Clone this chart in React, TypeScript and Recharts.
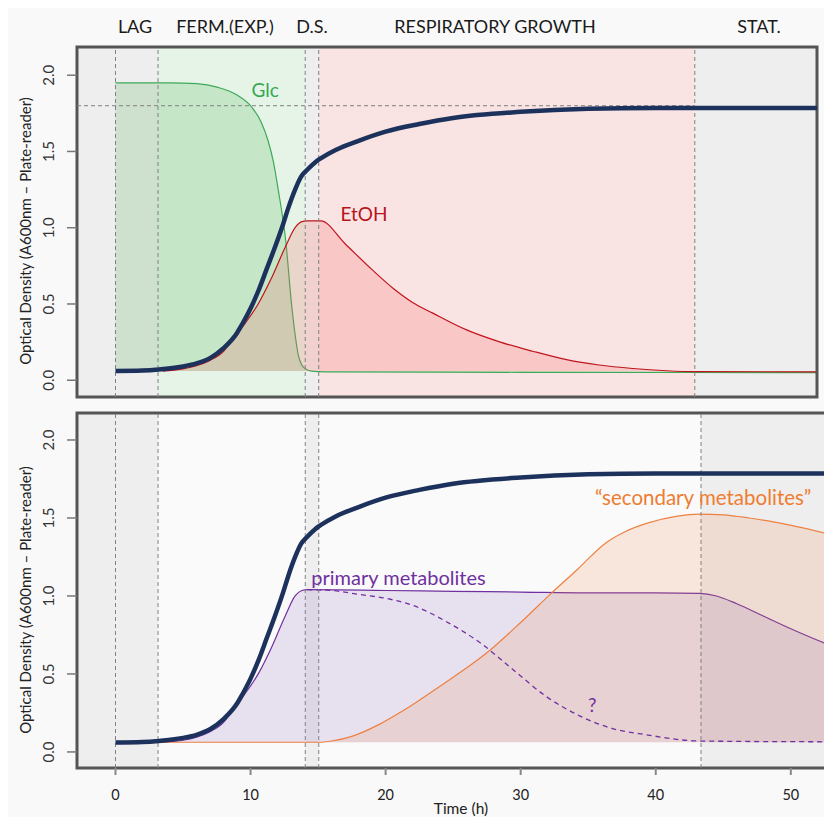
import { ComposedChart, Area, Line, XAxis, YAxis, ReferenceArea, ReferenceLine, ReferenceDot } from 'recharts'

// optical density (h, A600)
const odTime = [0, 2, 3.2, 5, 6, 7, 8, 9, 9.4, 10, 10.6, 11.2, 11.8, 12.4, 12.8, 13.3, 13.75, 14.2, 14.8, 15.2, 16.3, 18, 20, 22.5, 25, 30, 35, 40, 45, 52.7]
const odValue = [0.06, 0.063, 0.07, 0.09, 0.11, 0.145, 0.21, 0.31, 0.37, 0.47, 0.59, 0.73, 0.87, 1.02, 1.13, 1.25, 1.335, 1.38, 1.43, 1.455, 1.51, 1.57, 1.63, 1.68, 1.72, 1.76, 1.78, 1.785, 1.785, 1.785]

// glucose
const glcTime = [0, 4, 6, 7.6, 9, 10.1, 10.8, 11.3, 11.7, 12.05, 12.6, 13.06, 13.3, 13.55, 13.8, 14.05, 14.5, 15.5, 30, 52.7]
const glcValue = [1.95, 1.95, 1.945, 1.92, 1.87, 1.79, 1.69, 1.57, 1.43, 1.25, 0.92, 0.48, 0.3, 0.16, 0.1, 0.075, 0.06, 0.055, 0.052, 0.05]

// ethanol
const etohTime = [3.5, 5, 6, 7, 8, 8.6, 9.4, 10.6, 11.5, 12.56, 13.3, 13.8, 14.2, 15.2, 17, 19, 20.6, 22, 23.5, 26, 28.5, 30.9, 33.4, 35.8, 38.3, 40.8, 43, 52.7]
const etohValue = [0.06, 0.075, 0.095, 0.13, 0.19, 0.26, 0.35, 0.505, 0.66, 0.87, 1.0, 1.04, 1.045, 1.045, 0.895, 0.725, 0.6, 0.51, 0.44, 0.33, 0.25, 0.19, 0.135, 0.1, 0.077, 0.062, 0.056, 0.055]

// primary metabolites (solid) and the "?" branch (dashed)
const primTime = [3.15, 5, 6, 7, 8, 8.6, 9.4, 10.6, 11.5, 12.56, 13.3, 13.8, 14.2, 20, 25, 30, 35, 40, 43.2, 44.5, 46, 48, 50, 52.7]
const primValue = [0.062, 0.075, 0.095, 0.13, 0.19, 0.26, 0.35, 0.505, 0.66, 0.87, 1.0, 1.035, 1.04, 1.035, 1.03, 1.025, 1.02, 1.02, 1.017, 1.0, 0.95, 0.87, 0.79, 0.69]
const primAltTime = [14.2, 16, 18, 20, 22, 24.5, 27, 29.4, 31.9, 34.4, 36.8, 39.3, 43.2, 52.7]
const primAltValue = [1.04, 1.035, 1.01, 0.985, 0.94, 0.835, 0.7, 0.53, 0.355, 0.23, 0.15, 0.11, 0.07, 0.065]

// secondary metabolites
const secTime = [3.15, 15, 16, 17.5, 19.6, 21.4, 24, 27.7, 30, 32.3, 34.2, 36.3, 37.8, 39.5, 41.5, 43.2, 45, 46.9, 49, 52.7]
const secValue = [0.062, 0.062, 0.07, 0.1, 0.18, 0.27, 0.42, 0.65, 0.83, 1.02, 1.17, 1.34, 1.415, 1.47, 1.51, 1.525, 1.52, 1.5, 1.47, 1.4]

// phase boundaries (h)
const phaseTop = [0, 3.15, 14.05, 15.05, 42.9]
const phaseBottom = [0, 3.15, 14.05, 15.05, 43.35]
const phaseNames = ['LAG', 'FERM.(EXP.)', 'D.S.', 'RESPIRATORY GROWTH', 'STAT.']

const xTicks = [0, 10, 20, 30, 40, 50]
const yTicks = [0, 0.5, 1, 1.5, 2]

const pts = (t: number[], v: number[]) => t.map((x, i) => ({ t: x, v: v[i] }))

const FONT = 'Lato, "Open Sans", sans-serif'
const GRAY = '#eeeeee'
const DASH = '#808080'

const X_TOP: [number, number] = [-2.85, 51.95]
const X_BOT: [number, number] = [-2.85, 52.68]
const Y_TOP: [number, number] = [-0.11, 2.185]
const Y_BOT: [number, number] = [-0.103, 2.173]

const YTick = (props: any) => {
  const { x, y, payload } = props
  return (
    <text transform={`translate(${x - 11},${y}) rotate(-90)`} textAnchor="middle" fontSize={15} fill="#333" fontFamily={FONT}>
      {Number(payload.value).toFixed(1)}
    </text>
  )
}

function Frame({ xd, yd }: { xd: [number, number]; yd: [number, number] }) {
  return <ReferenceArea x1={xd[0]} x2={xd[1]} y1={yd[0]} y2={yd[1]} fill="none" stroke="#555" strokeWidth={3} ifOverflow="visible" />
}

function PhaseLines({ edges }: { edges: number[] }) {
  return (
    <>
      {edges.map((e) => (
        <ReferenceLine key={e} x={e} stroke={DASH} strokeDasharray="4 3" strokeWidth={1} />
      ))}
    </>
  )
}

export default function App() {
  const od = pts(odTime, odValue)
  const gl = pts(glcTime, glcValue)
  const et = pts(etohTime, etohValue)
  const pr = pts(primTime, primValue)
  const pa = pts(primAltTime, primAltValue)
  const se = pts(secTime, secValue)

  const topBands = [
    { x1: X_TOP[0], x2: phaseTop[1], fill: GRAY },
    { x1: phaseTop[1], x2: phaseTop[2], fill: '#e5f4e7' },
    { x1: phaseTop[2], x2: phaseTop[3], fill: GRAY },
    { x1: phaseTop[3], x2: phaseTop[4], fill: '#f9e3e3' },
    { x1: phaseTop[4], x2: X_TOP[1], fill: GRAY },
  ]
  const botBands = [
    { x1: X_BOT[0], x2: phaseBottom[1], fill: GRAY },
    { x1: phaseBottom[1], x2: phaseBottom[2], fill: '#fafafa' },
    { x1: phaseBottom[2], x2: phaseBottom[3], fill: GRAY },
    { x1: phaseBottom[3], x2: phaseBottom[4], fill: '#fafafa' },
    { x1: phaseBottom[4], x2: X_BOT[1], fill: GRAY },
  ]
  const headerX = [135, 225, 312, 495, 759]

  return (
    <div style={{ position: 'absolute', left: 0, top: 0, width: 824, height: 817, overflow: 'hidden', background: '#fff' }}>
      <div style={{ position: 'absolute', left: 8, top: 8, width: 816, height: 809, background: '#f9f9f9' }} />

      <div style={{ position: 'absolute', left: 0, top: 0 }}>
        <ComposedChart width={824} height={410} margin={{ top: 47, right: 7, bottom: 0, left: 0 }}>
          <XAxis dataKey="t" type="number" domain={X_TOP} ticks={xTicks} allowDataOverflow height={13} tick={false} tickSize={7} tickLine={{ stroke: '#888', strokeWidth: 2 }} axisLine={false} />
          <YAxis type="number" domain={Y_TOP} ticks={yTicks} allowDataOverflow width={77} tickSize={10} tick={<YTick />} tickLine={{ stroke: '#777', strokeWidth: 1.5 }} axisLine={false} />
          {topBands.map((b, i) => (
            <ReferenceArea key={i} x1={b.x1} x2={b.x2} y1={Y_TOP[0]} y2={Y_TOP[1]} fill={b.fill} fillOpacity={1} stroke="none" />
          ))}
          <Area data={gl} dataKey="v" type="monotone" baseValue={0.06} stroke="#3eaa58" strokeWidth={1.2} fill="#4cb050" fillOpacity={0.2} isAnimationActive={false} dot={false} activeDot={false} />
          <Area data={et} dataKey="v" type="monotone" baseValue={0.06} stroke="#c0141c" strokeWidth={1.2} fill="#ff5a5a" fillOpacity={0.2} isAnimationActive={false} dot={false} activeDot={false} />
          <PhaseLines edges={phaseTop} />
          <ReferenceLine segment={[{ x: X_TOP[0], y: 1.8 }, { x: phaseTop[4], y: 1.8 }]} stroke={DASH} strokeDasharray="4 3" strokeWidth={1} />
          <Line data={od} dataKey="v" type="monotone" stroke="#1c325c" strokeWidth={4.5} dot={false} activeDot={false} isAnimationActive={false} />
          <ReferenceDot x={11.08} y={1.9} r={0} fill="none" stroke="none" label={{ value: 'Glc', position: 'center', fill: '#35a852', fontSize: 19, fontFamily: FONT }} />
          <ReferenceDot x={18.4} y={1.09} r={0} fill="none" stroke="none" label={{ value: 'EtOH', position: 'center', fill: '#b8141c', fontSize: 19, fontFamily: FONT }} />
          <Frame xd={X_TOP} yd={Y_TOP} />
        </ComposedChart>
      </div>

      <div style={{ position: 'absolute', left: 0, top: 400 }}>
        <ComposedChart width={827} height={417} margin={{ top: 13, right: 0, bottom: 0, left: 0 }}>
          <XAxis dataKey="t" type="number" domain={X_BOT} ticks={xTicks} allowDataOverflow height={49} tickSize={7} tickMargin={15} tick={{ fontSize: 14.5, fill: '#222', fontFamily: FONT }} tickLine={{ stroke: '#888', strokeWidth: 2 }} axisLine={false} />
          <YAxis type="number" domain={Y_BOT} ticks={yTicks} allowDataOverflow width={77} tickSize={10} tick={<YTick />} tickLine={{ stroke: '#777', strokeWidth: 1.5 }} axisLine={false} />
          {botBands.map((b, i) => (
            <ReferenceArea key={i} x1={b.x1} x2={b.x2} y1={Y_BOT[0]} y2={Y_BOT[1]} fill={b.fill} fillOpacity={1} stroke="none" />
          ))}
          <Area data={pr} dataKey="v" type="monotone" baseValue={0.062} stroke="#7030a0" strokeWidth={1.2} fill="#7b4fb0" fillOpacity={0.14} isAnimationActive={false} dot={false} activeDot={false} />
          <Area data={se} dataKey="v" type="monotone" baseValue={0.062} stroke="#ee8040" strokeWidth={1.2} fill="#f08050" fillOpacity={0.17} isAnimationActive={false} dot={false} activeDot={false} />
          <Line data={pa} dataKey="v" type="monotone" stroke="#7030a0" strokeWidth={1.3} strokeDasharray="5 4" dot={false} activeDot={false} isAnimationActive={false} />
          <PhaseLines edges={phaseBottom} />
          <Line data={od} dataKey="v" type="monotone" stroke="#1c325c" strokeWidth={4.5} dot={false} activeDot={false} isAnimationActive={false} />
          <ReferenceDot x={14.5} y={1.115} r={0} fill="none" stroke="none" label={{ value: 'primary metabolites', position: 'right', offset: 0, fill: '#7030a0', fontSize: 20, fontFamily: FONT }} />
          <ReferenceDot x={35.5} y={1.63} r={0} fill="none" stroke="none" label={{ value: '\u201csecondary metabolites\u201d', position: 'right', offset: 0, fill: '#ee7d31', fontSize: 20.5, fontFamily: FONT }} />
          <ReferenceDot x={35.3} y={0.3} r={0} fill="none" stroke="none" label={{ value: '?', position: 'center', fill: '#7030a0', fontSize: 19, fontFamily: FONT }} />
          <Frame xd={X_BOT} yd={Y_BOT} />
        </ComposedChart>
      </div>

      <svg style={{ position: 'absolute', left: 0, top: 0 }} width={824} height={817} pointerEvents="none">
        {phaseNames.map((n, i) => (
          <text key={n} x={headerX[i]} y={26} textAnchor="middle" dominantBaseline="central" fontSize={18} fill="#1a1a1a" fontFamily={FONT}>
            {n}
          </text>
        ))}
        <text transform="translate(25,231) rotate(-90)" textAnchor="middle" dominantBaseline="central" fontSize={15} fill="#222" fontFamily={FONT}>
          Optical Density (A600nm – Plate-reader)
        </text>
        <text transform="translate(25,600) rotate(-90)" textAnchor="middle" dominantBaseline="central" fontSize={15} fill="#222" fontFamily={FONT}>
          Optical Density (A600nm – Plate-reader)
        </text>
        <text x={461} y={808} textAnchor="middle" dominantBaseline="central" fontSize={15.5} fill="#222" fontFamily={FONT}>
          Time (h)
        </text>
      </svg>
    </div>
  )
}
